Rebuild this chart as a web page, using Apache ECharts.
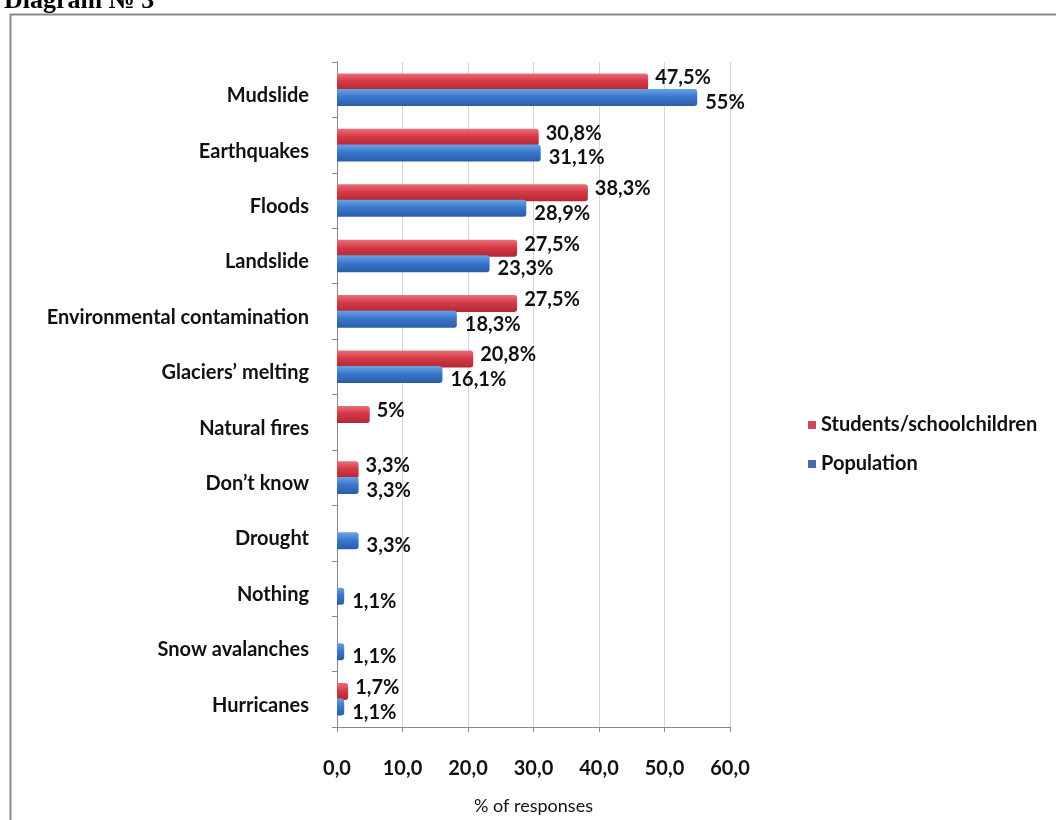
<!DOCTYPE html>
<html>
<head>
<meta charset="utf-8">
<script src="https://cdn.jsdelivr.net/npm/echarts@6/dist/echarts.min.js"></script>
<style>
  html, body { margin: 0; padding: 0; background: #fff; }
  #chart1 { width: 1056px; height: 820px; }
</style>
</head>
<body>
<div id="chart1"></div>
<script>
// categories from top to bottom
const categories = ['Mudslide', 'Earthquakes', 'Floods', 'Landslide', 'Environmental contamination',
  'Glaciers\u2019 melting', 'Natural fires', 'Don\u2019t know', 'Drought', 'Nothing', 'Snow avalanches', 'Hurricanes']
const students = [47.5, 30.8, 38.3, 27.5, 27.5, 20.8, 5, 3.3, null, null, null, 1.7]
const population = [55, 31.1, 28.9, 23.3, 18.3, 16.1, null, 3.3, 3.3, 1.1, 1.1, 1.1]
const xTicks = [0, 10, 20, 30, 40, 50, 60]

let dom = document.getElementById("chart1")
let myChart = echarts.init(dom)

function pct(p) {
    if (p.value == null) return ''
    return String(p.value).replace('.', ',') + '%'
}

function grad(top, mid, bot) {
    return new echarts.graphic.LinearGradient(0, 0, 0, 1, [
        { offset: 0, color: top },
        { offset: 0.45, color: mid },
        { offset: 1, color: bot }
    ])
}

const labelFont = 'Lato, "Open Sans", sans-serif'

var option = {
    animation: false,
    title: {
        text: 'Diagram \u2116 3',
        left: -1,
        top: -17,
        textStyle: { fontFamily: '"Liberation Serif", serif', fontSize: 26, fontWeight: 'bold', color: '#000' }
    },
    graphic: [{
        type: 'rect',
        left: 8, top: 12,
        shape: { width: 1070, height: 830 },
        style: { fill: 'none', stroke: '#8a8a8a', lineWidth: 2 },
        z: -1
    }],
    legend: {
        orient: 'vertical',
        left: 803,
        top: 410,
        itemWidth: 8,
        itemHeight: 8,
        itemGap: 19,
        icon: 'rect',
        textStyle: { fontFamily: labelFont, fontSize: 20, fontWeight: 'bold', color: '#111' },
        data: [
            { name: 'Students/schoolchildren', itemStyle: { color: '#c9485a' } },
            { name: 'Population', itemStyle: { color: '#4f6aa8' } }
        ]
    },
    grid: { left: 337, top: 62, width: 393, height: 668 },
    xAxis: {
        type: 'value',
        min: 0,
        max: 60,
        interval: 10,
        name: '% of responses',
        nameLocation: 'middle',
        nameGap: 70,
        nameTextStyle: { fontFamily: labelFont, fontSize: 18, color: '#111' },
        axisLine: { show: true, lineStyle: { color: '#888' } },
        axisTick: { show: true, lineStyle: { color: '#888' } },
        axisLabel: {
            margin: 32,
            fontFamily: labelFont, fontSize: 20, fontWeight: 'bold', color: '#111',
            formatter: v => xTicks.indexOf(v) >= 0 ? v.toFixed(1).replace('.', ',') : ''
        },
        splitLine: { show: true, lineStyle: { color: '#d6d6d6' } }
    },
    yAxis: {
        type: 'category',
        inverse: true,
        data: categories,
        axisLine: { show: true, lineStyle: { color: '#888' } },
        axisTick: { show: true, length: 5, lineStyle: { color: '#888' } },
        axisLabel: {
            margin: 28, verticalAlign: 'top', lineHeight: 12,
            fontFamily: labelFont, fontSize: 20, fontWeight: 'bold', color: '#111'
        }
    },
    series: [{
        name: 'Students/schoolchildren',
        type: 'bar',
        data: students,
        barWidth: 17,
        barGap: '-8%',
        itemStyle: { color: grad('#e8707a', '#d63a46', '#b02832'), borderRadius: [0, 3, 3, 0] },
        label: {
            show: true, position: 'right', distance: 7, offset: [0, -4],
            formatter: pct,
            fontFamily: labelFont, fontSize: 20, fontWeight: 'bold', color: '#111'
        }
    }, {
        name: 'Population',
        type: 'bar',
        data: population,
        barWidth: 17,
        itemStyle: { color: grad('#6aa2e6', '#3a78cc', '#2a5ca8'), borderRadius: [0, 3, 3, 0] },
        label: {
            show: true, position: 'right', distance: 8, offset: [0, 5],
            formatter: pct,
            fontFamily: labelFont, fontSize: 20, fontWeight: 'bold', color: '#111'
        }
    }]
}

if (option && typeof option === 'object') {
    myChart.setOption(option);
}
</script>
</body>
</html>
